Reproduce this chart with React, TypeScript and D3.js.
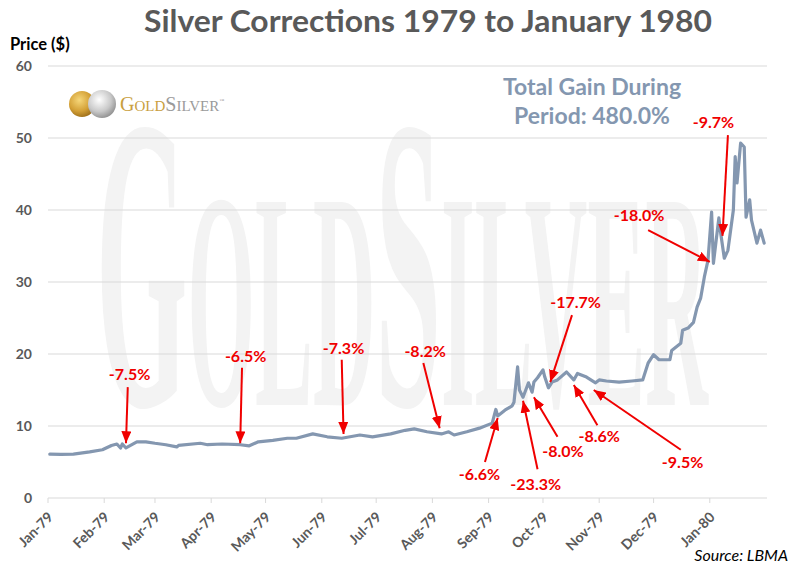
import React from 'react';
import * as d3 from 'd3';

// silver price (London fix, $/oz)
const priceDates = [
  '1979-01-02', '1979-01-08', '1979-01-15', '1979-01-24', '1979-01-31', '1979-02-05', '1979-02-08', '1979-02-10',
  '1979-02-11', '1979-02-13', '1979-02-19', '1979-02-24', '1979-03-01', '1979-03-07', '1979-03-13', '1979-03-14',
  '1979-03-26', '1979-03-30', '1979-04-07', '1979-04-17', '1979-04-22', '1979-04-27', '1979-05-05', '1979-05-13',
  '1979-05-18', '1979-05-27', '1979-06-04', '1979-06-12', '1979-06-22', '1979-06-29', '1979-07-09', '1979-07-17',
  '1979-07-22', '1979-07-29', '1979-08-06', '1979-08-10', '1979-08-13', '1979-08-20', '1979-08-27', '1979-09-03',
  '1979-09-05', '1979-09-06', '1979-09-10', '1979-09-14', '1979-09-15', '1979-09-17', '1979-09-18', '1979-09-20',
  '1979-09-23', '1979-09-25', '1979-09-26', '1979-09-28', '1979-10-01', '1979-10-02', '1979-10-04', '1979-10-06',
  '1979-10-09', '1979-10-14', '1979-10-18', '1979-10-20', '1979-10-25', '1979-10-30', '1979-11-01', '1979-11-05',
  '1979-11-12', '1979-11-19', '1979-11-25', '1979-11-28', '1979-12-01', '1979-12-04', '1979-12-10', '1979-12-11',
  '1979-12-16', '1979-12-17', '1979-12-20', '1979-12-23', '1979-12-25', '1979-12-27', '1979-12-29', '1979-12-31',
  '1980-01-02', '1980-01-03', '1980-01-06', '1980-01-07', '1980-01-09', '1980-01-11', '1980-01-14', '1980-01-15',
  '1980-01-16', '1980-01-18', '1980-01-20', '1980-01-21', '1980-01-23', '1980-01-24', '1980-01-27', '1980-01-29',
  '1980-01-31'
];
const prices = [
  6.1, 6.05, 6.1, 6.4, 6.7, 7.3, 7.5, 6.95,
  7.5, 6.95, 7.8, 7.8, 7.6, 7.4, 7.1, 7.3,
  7.6, 7.4, 7.5, 7.4, 7.25, 7.8, 8.0, 8.3,
  8.3, 8.9, 8.5, 8.3, 8.75, 8.5, 8.9, 9.4,
  9.6, 9.2, 8.9, 9.2, 8.75, 9.2, 9.7, 10.4,
  12.3, 11.4, 12.2, 12.8, 13.3, 18.2, 15.0, 14.0,
  16.0, 14.7, 16.1, 16.7, 17.8, 16.8, 15.3, 16.1,
  16.4, 17.5, 16.4, 17.3, 16.8, 16.0, 16.4, 16.25,
  16.1, 16.25, 16.4, 18.75, 19.9, 19.2, 19.2, 20.5,
  21.5, 23.3, 23.6, 24.4, 26.5, 27.8, 30.7, 33.0,
  39.7, 32.6, 38.9, 36.8, 33.3, 34.4, 40.0, 47.4,
  43.75, 49.3, 48.75, 39.0, 41.4, 38.6, 35.4, 37.2,
  35.4
];

const monthLabels = ['Jan-79', 'Feb-79', 'Mar-79', 'Apr-79', 'May-79', 'Jun-79', 'Jul-79', 'Aug-79', 'Sep-79', 'Oct-79', 'Nov-79', 'Dec-79', 'Jan-80'];
const yTicks = [0, 10, 20, 30, 40, 50, 60];

// correction callouts: label anchor, arrow tail, arrow tip (date, price)
const corrections = [
  { text: '-7.5%', labelDate: '1979-02-15', labelPrice: 17.1, tailDate: '1979-02-14', tailPrice: 15.4, tipDate: '1979-02-13', tipPrice: 7.6 },
  { text: '-6.5%', labelDate: '1979-04-20', labelPrice: 19.6, tailDate: '1979-04-18', tailPrice: 18.1, tipDate: '1979-04-17', tipPrice: 7.6 },
  { text: '-7.3%', labelDate: '1979-06-13', labelPrice: 20.8, tailDate: '1979-06-12', tailPrice: 19.2, tipDate: '1979-06-13', tipPrice: 8.9 },
  { text: '-8.2%', labelDate: '1979-07-28', labelPrice: 20.4, tailDate: '1979-07-27', tailPrice: 18.75, tipDate: '1979-08-05', tipPrice: 9.7 },
  { text: '-6.6%', labelDate: '1979-08-27', labelPrice: 3.3, tailDate: '1979-08-30', tailPrice: 5.0, tipDate: '1979-09-06', tipPrice: 11.1 },
  { text: '-23.3%', labelDate: '1979-09-27', labelPrice: 1.9, tailDate: '1979-09-28', tailPrice: 4.0, tipDate: '1979-09-20', tipPrice: 13.5 },
  { text: '-8.0%', labelDate: '1979-10-12', labelPrice: 6.5, tailDate: '1979-10-09', tailPrice: 8.5, tipDate: '1979-09-26', tipPrice: 14.0 },
  { text: '-8.6%', labelDate: '1979-11-01', labelPrice: 8.5, tailDate: '1979-10-31', tailPrice: 10.1, tipDate: '1979-10-18', tipPrice: 15.7 },
  { text: '-9.5%', labelDate: '1979-12-17', labelPrice: 4.9, tailDate: '1979-12-16', tailPrice: 6.7, tipDate: '1979-10-29', tipPrice: 15.0 },
  { text: '-17.7%', labelDate: '1979-10-19', labelPrice: 27.2, tailDate: '1979-10-17', tailPrice: 25.4, tipDate: '1979-10-05', tipPrice: 16.1 },
  { text: '-18.0%', labelDate: '1979-11-23', labelPrice: 39.2, tailDate: '1979-11-28', tailPrice: 37.2, tipDate: '1980-01-01', tipPrice: 32.8 },
  { text: '-9.7%', labelDate: '1980-01-03', labelPrice: 52.2, tailDate: '1980-01-11', tailPrice: 50.4, tipDate: '1980-01-08', tipPrice: 36.4 }
];

const W = 802;
const H = 565;
const FONT = 'Lato, "Open Sans", sans-serif';
const LINE_COLOR = '#8497b0';
const RED = '#f00000';

const parse = d3.timeParse('%Y-%m-%d');

export default function App() {
  const x = d3.scaleTime()
    .domain([new Date(1979, 0, 1), new Date(1980, 1, 1)])
    .range([48, 766]);
  const y = d3.scaleLinear().domain([0, 60]).range([498, 66]);

  const series = priceDates.map((d, i) => ({ date: parse(d) as Date, value: prices[i] }));
  const line = d3.line<any>()
    .x(d => x(d.date))
    .y(d => y(d.value));

  const monthTicks = d3.timeMonth.range(new Date(1979, 0, 1), new Date(1980, 0, 2));

  return (
    <svg width={W} height={H} style={{ position: 'absolute', left: 0, top: 0, background: '#fff' }} fontFamily={FONT}>
      <defs>
        <marker id="arrowHead" markerUnits="userSpaceOnUse" markerWidth={12} markerHeight={10} refX={12} refY={5} orient="auto">
          <path d="M0,0 L12,5 L0,10 z" fill={RED} />
        </marker>
        <radialGradient id="goldCoin" cx="40%" cy="35%" r="70%">
          <stop offset="0%" stopColor="#f6d77a" />
          <stop offset="60%" stopColor="#d4a137" />
          <stop offset="100%" stopColor="#9a6b17" />
        </radialGradient>
        <radialGradient id="silverCoin" cx="40%" cy="35%" r="70%">
          <stop offset="0%" stopColor="#ffffff" />
          <stop offset="60%" stopColor="#c9c9c9" />
          <stop offset="100%" stopColor="#8c8c8c" />
        </radialGradient>
      </defs>
      <rect width={W} height={H} fill="#fff" />

      {/* watermark, squeezed horizontally */}
      <text transform="translate(96,405) scale(0.28,1)" fill="#f3f3f3" fontWeight="bold" fontFamily='"Liberation Serif", "DejaVu Serif", serif'>
        <tspan fontSize={420}>G</tspan>
        <tspan fontSize={310}>OLD</tspan>
        <tspan fontSize={420}>S</tspan>
        <tspan fontSize={310}>ILVER</tspan>
      </text>

      {/* gridlines */}
      {yTicks.map(t => (
        <line key={t} x1={48} x2={767} y1={y(t)} y2={y(t)} stroke="#d9d9d9" strokeWidth={1} />
      ))}
      {yTicks.map(t => (
        <text key={'l' + t} x={32} y={y(t)} dy="0.35em" textAnchor="end" fontSize={14} fontWeight="bold" fill="#595959">{t}</text>
      ))}

      {/* x axis */}
      {monthTicks.map((d, i) => (
        <g key={i}>
          <line x1={x(d)} x2={x(d)} y1={498} y2={503} stroke="#d9d9d9" />
          <text transform={`translate(${x(d) + 6},${518}) rotate(-45)`} textAnchor="end" fontSize={14} fontWeight="bold" fill="#595959">{monthLabels[i]}</text>
        </g>
      ))}

      {/* price line */}
      <path d={line(series) || ''} fill="none" stroke={LINE_COLOR} strokeWidth={3.2} strokeLinejoin="round" strokeLinecap="round" />

      {/* corrections */}
      {corrections.map((c, i) => (
        <g key={i}>
          <line
            x1={x(parse(c.tailDate) as Date)} y1={y(c.tailPrice)}
            x2={x(parse(c.tipDate) as Date)} y2={y(c.tipPrice)}
            stroke={RED} strokeWidth={2} markerEnd="url(#arrowHead)" />
          <text x={x(parse(c.labelDate) as Date)} y={y(c.labelPrice)} dy="0.35em" textAnchor="middle" fontSize={16} fontWeight="bold" fill={RED}>{c.text}</text>
        </g>
      ))}

      {/* titles */}
      <text x={428} y={32} textAnchor="middle" fontSize={31} fontWeight="bold" fill="#595959" textLength={568} lengthAdjust="spacingAndGlyphs">Silver Corrections 1979 to January 1980</text>
      <text x={10} y={50} fontSize={16.5} fontWeight="bold" fill="#000">Price ($)</text>
      <text x={592} y={95} textAnchor="middle" fontSize={23} fontWeight="bold" fill={LINE_COLOR}>Total Gain During</text>
      <text x={592} y={124} textAnchor="middle" fontSize={23} fontWeight="bold" fill={LINE_COLOR}>Period: 480.0%</text>
      <text x={788} y={561} textAnchor="end" fontSize={16} fontStyle="italic" fill="#000">Source: LBMA</text>

      {/* logo */}
      <circle cx={82} cy={104} r={13} fill="url(#goldCoin)" />
      <circle cx={102} cy={104} r={14} fill="url(#silverCoin)" />
      <text x={120} y={111} fontFamily='"Liberation Serif", "DejaVu Serif", serif'>
        <tspan fontSize={20} fill="#c9a03f">G</tspan>
        <tspan fontSize={15} fill="#c9a03f">OLD</tspan>
        <tspan fontSize={20} fill="#9a9a9a">S</tspan>
        <tspan fontSize={15} fill="#9a9a9a">ILVER</tspan>
        <tspan fontSize={5} dy={-9} fill="#9a9a9a">™</tspan>
      </text>
    </svg>
  );
}
